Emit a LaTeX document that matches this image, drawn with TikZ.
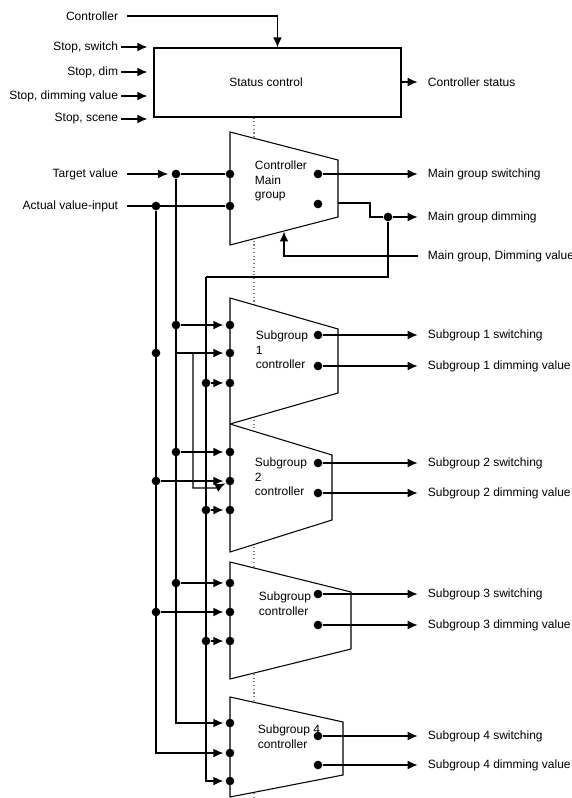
\documentclass[tikz,border=0pt]{standalone}
\usepackage{fontspec}
\setmainfont{Liberation Sans}
\usepackage{tikz}
\usetikzlibrary{arrows.meta, calc}

\tikzset{
  wire/.style={line width=0.9pt},
  dot/.style={circle, fill=black, inner sep=0pt, minimum size=6.5pt},
  lbl/.style={inner sep=2pt, font=\fontsize{9}{11}\selectfont},
  ctrlbox/.style={draw, line width=0.8pt, fill=white},
}

\begin{document}
\begin{tikzpicture}[x=0.75pt, y=-0.75pt, >={Latex[length=7.5pt,width=6.5pt]}]
\useasboundingbox (0,0) rectangle (571,798);
% Bus and column positions
\pgfmathsetmacro{\xA}{156} % actual value bus
\pgfmathsetmacro{\xT}{176} % target value bus
\pgfmathsetmacro{\xX}{193} % cross feed to subgroup 2
\pgfmathsetmacro{\xD}{206} % dimming value bus
\pgfmathsetmacro{\xL}{230} % left edge of controllers
\pgfmathsetmacro{\xO}{318} % output dots
\pgfmathsetmacro{\xC}{254} % centre line
\pgfmathsetmacro{\xR}{425} % output labels

% Status control
\node[draw, line width=0.8pt, minimum width=185.25pt, minimum height=51.75pt] (status) at (277.5,82.5) {};
\node[lbl] (statustxt) at (266,82) {Status control};
\node[lbl, anchor=east] (ctrl) at (121,16) {Controller};
\draw[wire,->, shorten <=4.5pt] (ctrl.east) -| (status.north);
\node[lbl, anchor=east] (stopsw) at (121,47) {Stop, switch};
\node[lbl, anchor=east] (stopdim) at (121,72) {Stop, dim};
\node[lbl, anchor=east] (stopval) at (121,96) {Stop, dimming value};
\node[lbl, anchor=east] (stopsc) at (121,119) {Stop, scene};
\draw[wire,->, shorten >=4.5pt] (stopsw.east) -- (stopsw.east -| status.west);
\draw[wire,->, shorten >=4.5pt] (stopdim.east) -- (stopdim.east -| status.west);
\draw[wire,->, shorten >=4.5pt] (stopval.east) -- (stopval.east -| status.west);
\draw[wire,->, shorten >=4.5pt] (stopsc.east) -- (stopsc.east -| status.west);
\node[lbl, anchor=west] (ctrlstat) at (\xR,82) {Controller status};
\draw[wire,->, shorten >=5.5pt] (status.east |- ctrlstat.west) -- (ctrlstat.west);

% Centre line
\coordinate (cbot) at (\xC,798);
\draw[gray, dotted, line width=0.8pt] (status.south -| cbot) -- (cbot);

% Main group controller
\draw[ctrlbox] (\xL,132) -- (338,160) -- (338,217) -- (\xL,245) -- cycle;
\node[lbl, anchor=west, align=left] (mgtxt) at (252,181) {Controller\\Main\\group};
\node[lbl, anchor=east] (tgt) at (121,174) {Target value};
\node[lbl, anchor=east] (act) at (121,206) {Actual value-input};
\node[dot] (tdot) at (\xT,174) {};
\node[dot] (adot) at (\xA,206) {};
\node[dot] (mi1) at (\xL,174) {};
\node[dot] (mi2) at (\xL,206) {};
\draw[wire,->, shorten <=4.5pt, shorten >=2.5pt] (tgt.east) -- (tdot);
\draw[wire] (tdot) -- (mi1);
\draw[wire, shorten <=4.5pt] (act.east) -- (mi2);
\node[dot] (mo1) at (\xO,174) {};
\node[dot] (mo2) at (\xO,204) {};
\node[lbl, anchor=west] (mgsw) at (\xR,174) {Main group switching};
\node[lbl, anchor=west] (mgdim) at (\xR,217) {Main group dimming};
\node[lbl, anchor=west] (mgdv) at (\xR,256) {Main group, Dimming value};
\node[dot] (mddot) at (388,217) {};
\coordinate (mdout) at (338,203);
\coordinate (mfb) at (284,231.5);
\coordinate (dtop) at (\xD,277);
\draw[wire,->, shorten >=5.5pt] (mo1) -- (mgsw.west);
\draw[wire] (mdout) -- ++(32,0) |- (mddot);
\draw[wire,->, shorten >=5.5pt] (mddot) -- (mgdim.west);
\draw[wire] (mddot) |- (dtop);
\draw[wire,->, shorten <=5.5pt] (mgdv.west) -| (mfb);

% Subgroup 1
\draw[ctrlbox] (\xL,298) -- (338,329) -- (338,393) -- (\xL,424) -- cycle;
\node[lbl, anchor=west, align=left] (s1txt) at (253,350) {Subgroup\\1\\controller};
\node[dot] (s1t) at (\xT,325) {};
\node[dot] (s1a) at (\xA,353) {};
\node[dot] (s1d) at (\xD,383) {};
\node[dot] (s1i1) at (\xL,325) {};
\node[dot] (s1i2) at (\xL,353) {};
\node[dot] (s1i3) at (\xL,383) {};
\coordinate (s1j) at (\xT,353);
\coordinate (s1x) at (\xX,353);
\draw[wire,->, shorten >=1.5pt] (s1t) -- (s1i1);
\draw[wire,->, shorten >=1.5pt] (s1j) -- (s1i2);
\draw[wire,->, shorten >=1.5pt] (s1d) -- (s1i3);
\node[dot] (s1o1) at (\xO,335) {};
\node[dot] (s1o2) at (\xO,366) {};
\node[lbl, anchor=west] (s1sw) at (\xR,335) {Subgroup 1 switching};
\node[lbl, anchor=west] (s1dim) at (\xR,366) {Subgroup 1 dimming value};
\draw[wire,->, shorten >=5.5pt] (s1o1) -- (s1sw.west);
\draw[wire,->, shorten >=5.5pt] (s1o2) -- (s1dim.west);

% Subgroup 2
\draw[ctrlbox] (\xL,424) -- (332,455) -- (332,520) -- (\xL,552) -- cycle;
\node[lbl, anchor=west, align=left] (s2txt) at (252,477) {Subgroup\\2\\controller};
\node[dot] (s2t) at (\xT,452) {};
\node[dot] (s2a) at (\xA,481) {};
\node[dot] (s2d) at (\xD,510) {};
\node[dot] (s2i1) at (\xL,452) {};
\node[dot] (s2i2) at (\xL,481) {};
\node[dot] (s2i3) at (\xL,510) {};
\coordinate (s2x) at (216,488);
\draw[wire,->, shorten >=1.5pt] (s2t) -- (s2i1);
\draw[wire,->, shorten >=1.5pt] (s2a) -- (s2i2);
\draw[wire,->, shorten >=1.5pt] (s2d) -- (s2i3);
\draw[wire,->, shorten >=0.5pt] (s1x) |- (s2x) -- (s2i2);
\node[dot] (s2o1) at (\xO,463) {};
\node[dot] (s2o2) at (\xO,493) {};
\node[lbl, anchor=west] (s2sw) at (\xR,463) {Subgroup 2 switching};
\node[lbl, anchor=west] (s2dim) at (\xR,493) {Subgroup 2 dimming value};
\draw[wire,->, shorten >=5.5pt] (s2o1) -- (s2sw.west);
\draw[wire,->, shorten >=5.5pt] (s2o2) -- (s2dim.west);

% Subgroup 3
\draw[ctrlbox] (\xL,562) -- (351,592) -- (351,649) -- (\xL,679) -- cycle;
\node[lbl, anchor=west, align=left] (s3txt) at (256,604) {Subgroup\\controller};
\node[dot] (s3t) at (\xT,583) {};
\node[dot] (s3a) at (\xA,612) {};
\node[dot] (s3d) at (\xD,641) {};
\node[dot] (s3i1) at (\xL,583) {};
\node[dot] (s3i2) at (\xL,612) {};
\node[dot] (s3i3) at (\xL,641) {};
\draw[wire,->, shorten >=1.5pt] (s3t) -- (s3i1);
\draw[wire,->, shorten >=1.5pt] (s3a) -- (s3i2);
\draw[wire,->, shorten >=1.5pt] (s3d) -- (s3i3);
\node[dot] (s3o1) at (\xO,594) {};
\node[dot] (s3o2) at (\xO,625) {};
\node[lbl, anchor=west] (s3sw) at (\xR,594) {Subgroup 3 switching};
\node[lbl, anchor=west] (s3dim) at (\xR,625) {Subgroup 3 dimming value};
\draw[wire,->, shorten >=5.5pt] (s3o1) -- (s3sw.west);
\draw[wire,->, shorten >=5.5pt] (s3o2) -- (s3dim.west);

% Subgroup 4
\draw[ctrlbox] (\xL,697) -- (343,722) -- (343,775) -- (\xL,797) -- cycle;
\node[lbl, anchor=west, align=left] (s4txt) at (255,737) {Subgroup 4\\controller};
\node[dot] (s4i1) at (\xL,723) {};
\node[dot] (s4i2) at (\xL,753) {};
\node[dot] (s4i3) at (\xL,781) {};
\node[dot] (s4o1) at (\xO,736) {};
\node[dot] (s4o2) at (\xO,765) {};
\node[lbl, anchor=west] (s4sw) at (\xR,736) {Subgroup 4 switching};
\node[lbl, anchor=west] (s4dim) at (\xR,765) {Subgroup 4 dimming value};
\draw[wire,->, shorten >=5.5pt] (s4o1) -- (s4sw.west);
\draw[wire,->, shorten >=5.5pt] (s4o2) -- (s4dim.west);

% Buses
\draw[wire,->, shorten >=1.5pt] (tdot) |- (s4i1);
\draw[wire,->, shorten >=1.5pt] (adot) |- (s4i2);
\draw[wire,->, shorten >=1.5pt] (dtop) |- (s4i3);

\end{tikzpicture}
\end{document}
